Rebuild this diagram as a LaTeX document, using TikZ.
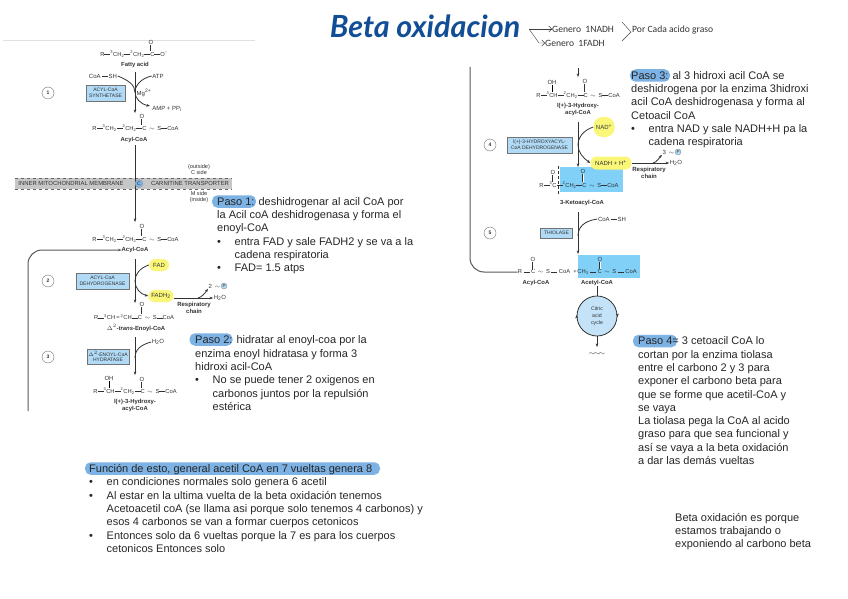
\documentclass[tikz,border=0pt]{standalone}
\usepackage{fontspec}
\setmainfont{Liberation Sans}
\newfontfamily\titlefont{Lato}
\newfontfamily\notefont{Carlito}
\usepackage{xcolor}
\usetikzlibrary{arrows.meta}
\definecolor{bzblue}{RGB}{125,178,228}
\definecolor{bzsky}{RGB}{128,208,248}
\definecolor{bzenz}{RGB}{176,218,245}
\definecolor{bzyellow}{RGB}{250,246,120}
\definecolor{bzink}{RGB}{50,50,50}
\definecolor{bztitle}{RGB}{18,78,150}
\newcommand{\bd}{\rule[0.55ex]{6pt}{0.3pt}}
\newcommand{\bdw}{\hspace{1.5pt}\bd\hspace{1.5pt}}
\newcommand{\wv}{\hspace{2.5pt}$\sim$\hspace{2.5pt}}
\newcommand{\bul}{\makebox[17.5pt][l]{\textbullet}}
\newcommand{\ind}{\hspace*{17.5pt}}

\begin{document}
\begin{tikzpicture}[x=1pt, y=-1pt,
  every node/.style={text=bzink},
  para/.style={anchor=north west, align=left, inner sep=0pt, text=black!85,
               font=\fontsize{11}{13.3}\selectfont},
  blob/.style={fill=bzblue, rounded corners=5.5pt, minimum height=12.5pt, inner sep=0pt},
  chem/.style={font=\fontsize{5.8}{6}\selectfont, inner sep=0pt},
  atom/.style={font=\fontsize{6}{6}\selectfont, inner sep=0.5pt},
  cname/.style={font=\bfseries\fontsize{5.9}{7}\selectfont, align=center, inner sep=0pt},
  respname/.style={font=\bfseries\fontsize{6}{7}\selectfont, align=center, inner sep=0pt},
  enz/.style={rectangle, draw=black!55, fill=bzenz, thick, align=center, inner sep=0pt,
              font=\fontsize{5}{5.6}\selectfont},
  stepnum/.style={circle, draw=black!55, fill=white, minimum size=12pt, inner sep=0pt,
                  font=\bfseries\fontsize{5}{6}\selectfont},
  cofac/.style={rectangle, rounded corners=6pt, fill=bzyellow, inner sep=0pt, font=\fontsize{6}{6}\selectfont},
  phos/.style={circle, fill=bzenz, draw=black!50, line width=0.3pt, minimum size=6pt, inner sep=0pt,
               font=\fontsize{4.5}{5}\selectfont},
  hilite/.style={rectangle, fill=bzsky, inner sep=0pt},
  flow/.style={-{Stealth[length=3.5pt]}, thick, draw=bzink},
  side/.style={thick, draw=bzink},
  dbond/.style={double, double distance=1pt, line width=0.3pt, draw=bzink},
  back/.style={draw=black!65, line width=1pt, rounded corners=14pt},
  hand/.style={font=\notefont\fontsize{9.6}{11}\selectfont, inner sep=0pt, text=black!80},
]
\useasboundingbox (0,0) rectangle (848,599);

% Title
\node[font=\titlefont\bfseries\itshape\fontsize{30.5}{32}\selectfont, text=bztitle, inner sep=0pt] (title) at (425,26) {Beta oxidacion};
\node[hand, anchor=west] (nadh) at (552,29) {Genero \ 1NADH};
\node[hand, anchor=west] (fadh) at (545,43) {Genero \ 1FADH};
\node[hand, anchor=west] (porcada) at (632,30) {Por Cada acido graso};
\coordinate (fork) at (529,29);
\coordinate (forkdn) at (539,43);
\coordinate (angA) at (622,22);
\coordinate (angB) at (631,32);
\coordinate (angC) at (622,41);
\draw[-{Straight Barb[length=3pt]}, draw=black!75] (fork) -- (nadh.west);
\draw[-{Straight Barb[length=3pt]}, draw=black!75] (fork) -- (forkdn) -- (fadh.west);
\draw[draw=black!75] (angA) -- (angB) -- (angC);

% Page edge
\coordinate (edgeL) at (3,40);
\coordinate (edgeR) at (255,40);
\draw[black!12] (edgeL) -- (edgeR);

% Highlights behind the notes
\node[blob, minimum width=44pt] (hl1) at (234,201.5) {};
\node[blob, minimum width=43pt] (hl2) at (211,339.5) {};
\node[blob, minimum width=40pt] (hl3) at (650,75.5) {};
\node[blob, minimum width=44pt] (hl4) at (655,341) {};
\node[blob, minimum width=295pt] (hl5) at (232.5,468.5) {};
\node[hilite, minimum width=63pt, minimum height=25pt] (hlketo) at (591.5,179.5) {};
\node[hilite, minimum width=62pt, minimum height=23pt] (hlacet) at (609,266.5) {};

% Membrane
\node[rectangle, fill=black!22, minimum width=217pt, minimum height=11pt, inner sep=0pt] (band) at (123.5,183.5) {};
\draw[dashed, black!60] (band.north west) -- (band.north east);
\draw[dashed, black!60] (band.south west) -- (band.south east);
\node[font=\fontsize{5.9}{6}\selectfont, inner sep=0pt] (inner) at (71,183.5) {INNER MITOCHONDRIAL MEMBRANE};
\node[font=\fontsize{5.9}{6}\selectfont, inner sep=0pt] (carn) at (190,183.5) {CARNITINE TRANSPORTER};
\node[font=\fontsize{5.6}{6.4}\selectfont, align=center, inner sep=0pt] (cside) at (199,169.5) {(outside)\\C side};
\node[font=\fontsize{5.6}{6.4}\selectfont, align=center, inner sep=0pt] (mside) at (199,197) {M side\\(inside)};

% Step 1
\node[chem] (fatty) at (134,54) {R\bd\textsuperscript{3}CH\textsubscript{2}\bd\textsuperscript{2}CH\textsubscript{2}\bd C\bd O\textsuperscript{--}};
\node[atom] (fattyO) at (151,42) {O};
\node[cname] (fattyN) at (135,65) {Fatty acid};
\node[stepnum] (n1) at (48,93) {1};
\node[enz, minimum width=39pt, minimum height=16pt] (acs) at (105.5,93) {ACYL-CoA\\SYNTHETASE};
\node[atom] (coash1) at (103,76) {CoA\,\bd\,SH};
\node[atom] (atp) at (158,76) {ATP};
\node[atom] (mg) at (144,93) {Mg\textsuperscript{2+}};
\node[atom] (amp) at (167,109) {AMP + PP\textsubscript{i}};
\node[chem] (acyl1) at (135.5,128) {R\bd\textsuperscript{3}CH\textsubscript{2}\bd\textsuperscript{2}CH\textsubscript{2}\bd C\wv S\bd CoA};
\node[atom] (acyl1O) at (142,116) {O};
\node[cname] (acyl1N) at (134,140) {Acyl-CoA};
\draw[dbond] (fattyO) -- (fattyO |- fatty.north);
\draw[dbond] (acyl1O) -- (acyl1O |- acyl1.north);
\coordinate (s1a) at (135,72);
\coordinate (s1b) at (135,113);
\coordinate (s1m) at (135,92);
\coordinate (s1out) at (150,106);
\draw[flow] (s1a) -- (s1b);
\draw[side] (coash1.east) .. controls (128,80) and (135,85) .. (s1m);
\draw[side] (atp.west) .. controls (142,78) and (135,85) .. (s1m);
\draw[flow] (s1m) .. controls (135,98) and (140,104) .. (s1out);

% Through the membrane
\coordinate (m1) at (135,145);
\coordinate (m2) at (135,222);
\draw[flow] (m1) -- (m2);
\node[circle, fill=bzblue, draw=black!40, minimum size=8pt, inner sep=0pt, font=\fontsize{5}{6}\selectfont] (carnC) at (139,183.5) {C};

% Step 2
\node[chem] (acyl2) at (135.5,239) {R\bd\textsuperscript{3}CH\textsubscript{2}\bd\textsuperscript{2}CH\textsubscript{2}\bd C\wv S\bd CoA};
\node[atom] (acyl2O) at (142,226) {O};
\node[cname] (acyl2N) at (135,250) {Acyl-CoA};
\node[stepnum] (n2) at (48,281) {2};
\node[enz, minimum width=53pt, minimum height=16pt] (acd) at (102.5,281) {ACYL-CoA\\DEHYDROGENASE};
\node[cofac, minimum width=20pt, minimum height=12pt] (fad) at (159,265) {FAD};
\node[cofac, minimum width=25pt, minimum height=12pt] (fadh2) at (161,296) {FADH\textsubscript{2}};
\node[atom] (h2o1) at (220,298) {H\textsubscript{2}O};
\node[atom, anchor=east] (atp2) at (221,286) {2\wv};
\node[phos] (pi2) at (224,286) {P};
\node[respname] (resp1) at (194,307.5) {Respiratory\\chain};
\node[chem] (enoyl) at (134,317) {R\bd\textsuperscript{3}CH\,=\,\textsuperscript{2}CH\bd C\wv S\bd CoA};
\node[atom] (enoylO) at (142,304) {O};
\node[cname] (enoylN) at (136,328) {$\Delta^2$-\textit{trans}-Enoyl-CoA};
\draw[dbond] (acyl2O) -- (acyl2O |- acyl2.north);
\draw[dbond] (enoylO) -- (enoylO |- enoyl.north);
\coordinate (s2a) at (135,259);
\coordinate (s2b) at (135,303);
\coordinate (s2m) at (135,281);
\coordinate (r1) at (198,298);
\draw[flow] (s2a) -- (s2b);
\draw[side] (fad.west) .. controls (140,268) and (135,274) .. (s2m);
\draw[flow] (s2m) .. controls (135,288) and (140,294) .. (fadh2.west);
\draw[flow] (h2o1.west -| fadh2.east) -- (h2o1.west);
\draw[flow] (r1) .. controls (202,297) and (205,293) .. (atp2.south west);

% Step 3
\node[stepnum] (n3) at (48,357) {3};
\node[enz, minimum width=42pt, minimum height=15pt] (hyd) at (108,356.5) {$\Delta^2$-ENOYL-CoA\\HYDRATASE};
\node[atom] (h2o2) at (158,342) {H\textsubscript{2}O};
\node[chem] (hydroxy1) at (135,391) {R\bd\textsuperscript{3}CH\bd\textsuperscript{2}CH\textsubscript{2}\bd C\wv S\bd CoA};
\node[atom] (oh1) at (109,378) {OH};
\node[atom] (hydroxy1O) at (142,379) {O};
\node[cname] (hydroxy1N) at (135,405.5) {\textsc{l}(+)-3-Hydroxy-\\acyl-CoA};
\draw[dbond] (hydroxy1O) -- (hydroxy1O |- hydroxy1.north);
\draw[line width=0.3pt] (oh1) -- (oh1 |- hydroxy1.north);
\coordinate (s3a) at (135,337);
\coordinate (s3b) at (135,375);
\coordinate (s3m) at (135,358);
\draw[flow] (s3a) -- (s3b);
\draw[side] (h2o2.west) .. controls (140,345) and (135,350) .. (s3m);

% Return line, left part
\coordinate (backL) at (28,411);
\coordinate (backLc) at (28,250);
\draw[back, -{Stealth[length=3.5pt]}] (backL) -- (backLc) -- (acyl2N.west);

% Column on the right: step 4
\coordinate (t1) at (578,68);
\coordinate (t2) at (578,77);
\draw[flow] (t1) -- (t2);
\node[chem] (hydroxy2) at (578,95) {R\bd\textsuperscript{3}CH\bd\textsuperscript{2}CH\textsubscript{2}\bd C\wv S\bd CoA};
\node[atom] (oh2) at (552,82) {OH};
\node[atom] (hydroxy2O) at (585,81) {O};
\node[cname] (hydroxy2N) at (578,109.5) {\textsc{l}(+)-3-Hydroxy-\\acyl-CoA};
\draw[dbond] (hydroxy2O) -- (hydroxy2O |- hydroxy2.north);
\draw[line width=0.3pt] (oh2) -- (oh2 |- hydroxy2.north);
\node[stepnum] (n4) at (490,145) {4};
\node[enz, minimum width=65pt, minimum height=16pt] (hadh) at (539.5,145) {\textsc{l}(+)-3-HYDROXYACYL-\\CoA DEHYDROGENASE};
\node[cofac, rounded corners=9pt, minimum width=21pt, minimum height=20pt] (nad) at (604,127) {NAD\textsuperscript{+}};
\node[cofac, minimum width=41pt, minimum height=13pt] (nadh2) at (611,163) {NADH + H\textsuperscript{+}};
\node[atom] (h2o3) at (676,163) {H\textsubscript{2}O};
\node[atom, anchor=east] (atp3) at (675,152) {3\wv};
\node[phos] (pi3) at (678,152) {P};
\node[respname] (resp2) at (649,172.5) {Respiratory\\chain};
\node[chem] (keto) at (579,185) {R\bd\textsuperscript{3}C\bd\textsuperscript{2}CH\textsubscript{2}\bd C\wv S\bd CoA};
\node[atom] (ketoOa) at (553,172) {O};
\node[atom] (ketoOb) at (583,171) {O};
\node[cname] (ketoN) at (582,203) {3-Ketoacyl-CoA};
\draw[dbond] (ketoOa) -- (ketoOa |- keto.north);
\draw[dbond] (ketoOb) -- (ketoOb |- keto.north);
\coordinate (cutA) at (558,166);
\coordinate (cutB) at (558,195);
\draw[densely dashed, draw=bzink] (cutA) -- (cutB);
\coordinate (s4a) at (578,122);
\coordinate (s4b) at (578,167);
\coordinate (s4m) at (578,145);
\coordinate (r2) at (653,163);
\draw[flow] (s4a) -- (s4b);
\draw[side] (nad.west) .. controls (584,130) and (578,137) .. (s4m);
\draw[flow] (s4m) .. controls (578,152) and (583,158) .. (nadh2.west);
\draw[flow] (nadh2.east) -- (h2o3.west);
\draw[flow] (r2) .. controls (657,162) and (659,158) .. (atp3.south west);

% Step 5
\node[stepnum] (n5) at (490,233) {5};
\node[enz, minimum width=32pt, minimum height=10pt] (thio) at (556.5,233) {THIOLASE};
\node[atom] (coash2) at (612,219) {CoA\,\bd\,SH};
\node[chem] (prodL) at (544,272) {R\bdw C\wv S\bdw CoA};
\node[chem] (prodP) at (575,272) {+};
\node[chem] (prodR) at (607,272) {CH\textsubscript{3}\bdw C\wv S\bdw CoA};
\node[atom] (prodOa) at (533,259) {O};
\node[atom] (prodOb) at (600,259) {O};
\node[cname] (prodNa) at (536,283) {Acyl-CoA};
\node[cname] (prodNb) at (597,283) {Acetyl-CoA};
\draw[dbond] (prodOa) -- (prodOa |- prodL.north);
\draw[dbond] (prodOb) -- (prodOb |- prodR.north);
\coordinate (s5a) at (578,212);
\coordinate (s5b) at (578,254);
\coordinate (s5m) at (578,236);
\draw[flow] (s5a) -- (s5b);
\draw[side] (coash2.west) .. controls (584,221) and (578,227) .. (s5m);

% Citric acid cycle
\node[circle, fill=bzenz!75, draw=bzink, thick, minimum size=40pt, inner sep=0pt, align=center, font=\fontsize{5.2}{7}\selectfont] (tca) at (597,316) {Citric\\acid\\cycle};
\node[font=\fontsize{7}{8}\selectfont, inner sep=0pt] (co2) at (597,354) {$\sim\!\sim\!\sim$};
\coordinate (tcaOut) at (597,347);
\draw[thick, draw=bzink] (prodNb.south) -- (tca.north);
\draw[flow] (tca.south) -- (tcaOut);
\draw[-{Stealth[length=3.5pt]}, draw=bzink] (tca.east) -- ++(0,1);
\draw[-{Stealth[length=3.5pt]}, draw=bzink] (tca.west) -- ++(0,-1);

% Return line, right part
\coordinate (backT) at (470,67);
\coordinate (backRc) at (470,272);
\draw[back] (backT) -- (backRc) -- (prodL.west);

% Notes
\node[para] (paso1) at (217,197.2) {Paso 1: deshidrogenar al acil CoA por\\
la Acil coA deshidrogenasa y forma el\\
enoyl-CoA\\
\bul entra FAD y sale FADH2 y se va a la\\
\ind cadena respiratoria\\
\bul FAD= 1.5 atps};
\node[para] (paso2) at (195,335.7) {Paso 2: hidratar al enoyl-coa por la\\
enzima enoyl hidratasa y forma 3\\
hidroxi acil-CoA\\
\bul No se puede tener 2 oxigenos en\\
\ind carbonos juntos por la repulsión\\
\ind estérica};
\node[para] (paso3) at (631,71.2) {Paso 3: al 3 hidroxi acil CoA se\\
deshidrogena por la enzima 3hidroxi\\
acil CoA deshidrogenasa y forma al\\
Cetoacil CoA\\
\bul entra NAD y sale NADH+H pa la\\
\ind cadena respiratoria};
\node[para] (paso4) at (638,336.7) {Paso 4= 3 cetoacil CoA lo\\
cortan por la enzima tiolasa\\
entre el carbono 2 y 3 para\\
exponer el carbono beta para\\
que se forme que acetil-CoA y\\
se vaya\\
La tiolasa pega la CoA al acido\\
graso para que sea funcional y\\
así se vaya a la beta oxidación\\
a dar las demás vueltas};
\node[para] (funcion) at (89,464.2) {Función de esto, general acetil CoA en 7 vueltas genera 8\\
\bul en condiciones normales solo genera 6 acetil\\
\bul Al estar en la ultima vuelta de la beta oxidación tenemos\\
\ind Acetoacetil coA (se llama asi porque solo tenemos 4 carbonos) y\\
\ind esos 4 carbonos se van a formar cuerpos cetonicos\\
\bul Entonces solo da 6 vueltas porque la 7 es para los cuerpos\\
\ind cetonicos Entonces solo};
\node[para] (nota) at (675,512.7) {Beta oxidación es porque\\
estamos trabajando o\\
exponiendo al carbono beta};
\end{tikzpicture}
\end{document}
